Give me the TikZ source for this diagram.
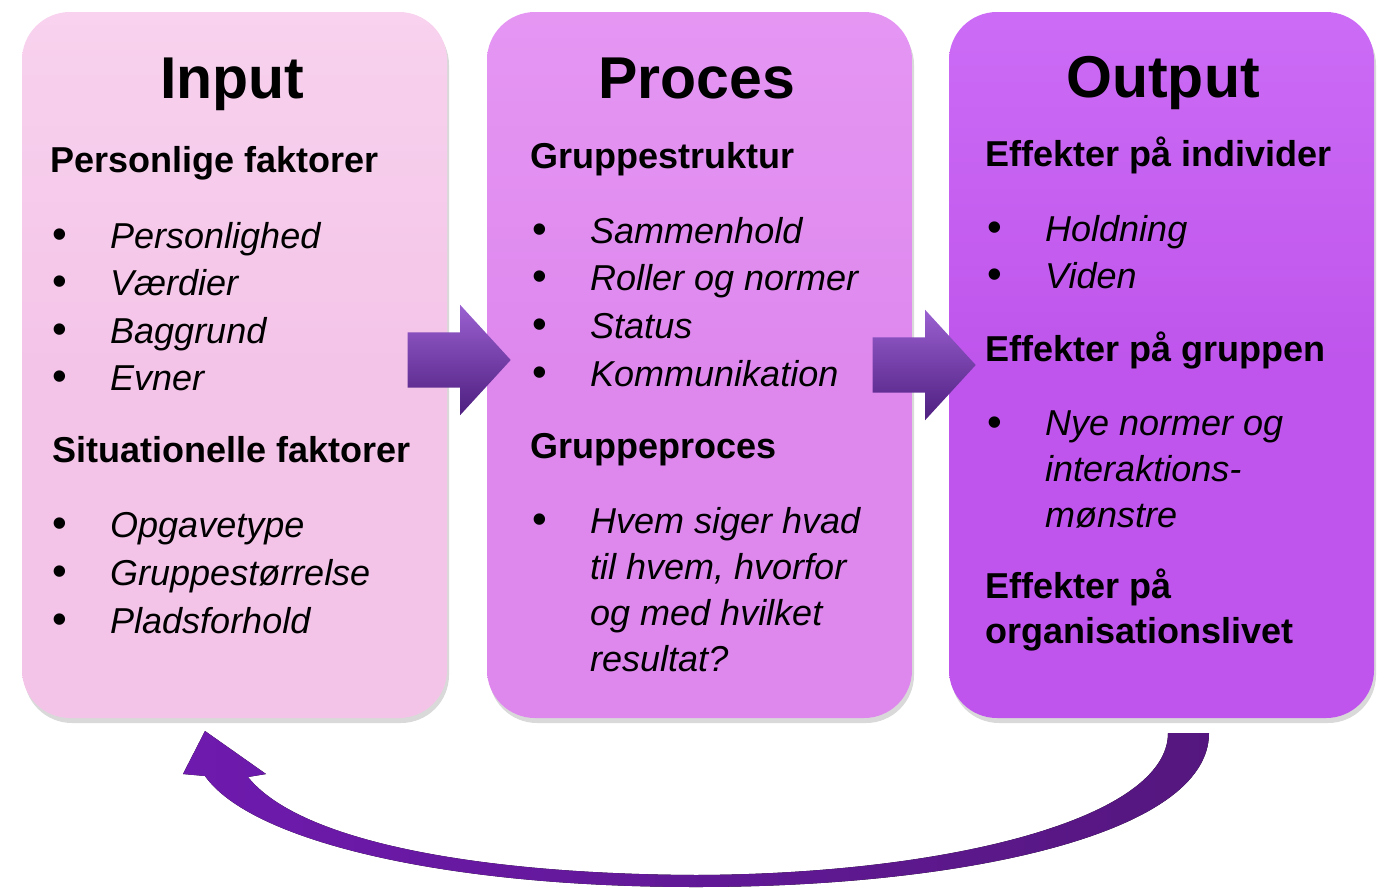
\documentclass[tikz,border=0pt]{standalone}
\usepackage{fontspec}
\setmainfont{Liberation Sans}
\usetikzlibrary{shapes.arrows,shadows}

\definecolor{inpink}{HTML}{F4C4E8}
\definecolor{inpinktop}{HTML}{F8D2EE}
\definecolor{procpink}{HTML}{DE88EE}
\definecolor{procpinktop}{HTML}{E596F3}
\definecolor{outpurple}{HTML}{BF55EC}
\definecolor{outpurpletop}{HTML}{CC6CF6}
\definecolor{arrowlight}{HTML}{9A60D0}
\definecolor{arrowmid}{HTML}{6C2FA6}
\definecolor{arrowdark}{HTML}{4E1F80}
\definecolor{loopleft}{HTML}{6E1AAE}
\definecolor{loopright}{HTML}{55177F}

\tikzset{
    stage/.style = {rounded corners = 48pt, minimum width = 425pt, minimum height = 706pt,
        drop shadow = {opacity = 0.3, shadow xshift = 2pt, shadow yshift = -5pt}},
    heading/.style = {anchor = base, inner sep = 0pt, font = \fontsize{59}{66}\selectfont\bfseries},
    subhead/.style = {anchor = base west, inner sep = 0pt, align = left, font = \fontsize{36}{45}\selectfont\bfseries},
    item/.style = {anchor = base west, inner sep = 0pt, align = left, font = \fontsize{36}{46}\selectfont\itshape},
    dot/.style = {anchor = base, inner sep = 0pt, font = \fontsize{42}{46}\selectfont},
    blockarrow/.style = {single arrow, minimum height = 103pt, minimum width = 110pt,
        inner sep = 27.5pt, single arrow head extend = 27.5pt, single arrow tip angle = 95,
        shading = axis, top color = arrowlight, middle color = arrowmid, bottom color = arrowdark}
}

\begin{document}
\begin{tikzpicture}[x = 1pt, y = -1pt]
\useasboundingbox (0,0) rectangle (1381,889);

% the three stages
\node[stage, top color = inpinktop, bottom color = inpink, middle color = inpink] (input) at (234.5,365) {};
\node[stage, top color = procpinktop, bottom color = procpink, middle color = procpink] (proces) at (699.5,365) {};
\node[stage, top color = outpurpletop, bottom color = outpurple, middle color = outpurple] (output) at (1161.5,365) {};

% arrows between the stages
\node[blockarrow] (arrA) at (446.5,360) {};
\node[blockarrow] (arrB) at (911.5,365) {};

% feedback loop
\coordinate (tailR) at (1209,733);
\coordinate (tailL) at (1168,733);
\coordinate (tip) at (205,731);
\fill[left color = loopleft, right color = loopright]
    (tailR) .. controls (1209,835) and (960,887) .. (696,887)
    .. controls (440,887) and (250,840) .. (205,776)
    -- (183,774) -- (tip) -- (266,774) -- (248,777)
    .. controls (300,842) and (480,874) .. (696,875)
    .. controls (950,874) and (1168,818) .. (tailL) -- cycle;

% Input
\node[heading] (tIn) at (232.5,98) {Input};
\node[subhead] (pers) at (50,172) {Personlige faktorer};
\node[dot] (d1) at (60,248) {\textbullet};
\node[item] (i1) at (110,248) {Personlighed};
\node[dot] (d2) at (60,295) {\textbullet};
\node[item] (i2) at (110,295) {Værdier};
\node[dot] (d3) at (60,343) {\textbullet};
\node[item] (i3) at (110,343) {Baggrund};
\node[dot] (d4) at (60,390) {\textbullet};
\node[item] (i4) at (110,390) {Evner};
\node[subhead] (sit) at (52,462) {Situationelle faktorer};
\node[dot] (d5) at (60,537) {\textbullet};
\node[item] (i5) at (110,537) {Opgavetype};
\node[dot] (d6) at (60,585) {\textbullet};
\node[item] (i6) at (110,585) {Gruppestørrelse};
\node[dot] (d7) at (60,633) {\textbullet};
\node[item] (i7) at (110,633) {Pladsforhold};

% Proces
\node[heading] (tProc) at (697,98) {Proces};
\node[subhead] (struk) at (530,168) {Gruppestruktur};
\node[dot] (e1) at (540,243) {\textbullet};
\node[item] (p1) at (590,243) {Sammenhold};
\node[dot] (e2) at (540,290) {\textbullet};
\node[item] (p2) at (590,290) {Roller og normer};
\node[dot] (e3) at (540,338) {\textbullet};
\node[item] (p3) at (590,338) {Status};
\node[dot] (e4) at (540,386) {\textbullet};
\node[item] (p4) at (590,386) {Kommunikation};
\node[subhead] (gproc) at (530,458) {Gruppeproces};
\node[dot] (e5) at (540,533) {\textbullet};
\node[item] (p5) at (590,671) {Hvem siger hvad\\til hvem, hvorfor\\og med hvilket\\resultat?};

% Output
\node[heading] (tOut) at (1163,97) {Output};
\node[subhead] (indiv) at (985,166) {Effekter på individer};
\node[dot] (f1) at (995,241) {\textbullet};
\node[item] (o1) at (1045,241) {Holdning};
\node[dot] (f2) at (995,288) {\textbullet};
\node[item] (o2) at (1045,288) {Viden};
\node[subhead] (grup) at (985,361) {Effekter på gruppen};
\node[dot] (f3) at (995,436) {\textbullet};
\node[item] (o3) at (1045,527) {Nye normer og\\interaktions-\\mønstre};
\node[subhead] (org) at (985,643) {Effekter på\\organisationslivet};

\end{tikzpicture}
\end{document}
